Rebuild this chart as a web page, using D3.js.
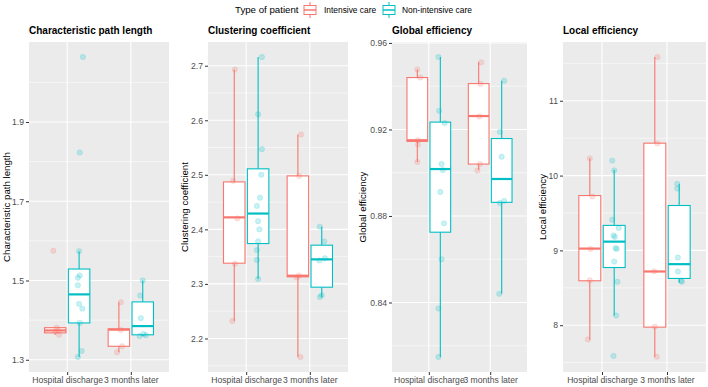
<!DOCTYPE html>
<html>
<head>
<meta charset="utf-8">
<script src="https://cdn.jsdelivr.net/npm/d3@7"></script>
<style>
  body { margin: 0; background: #fff; }
  svg { display: block; font-family: 'Liberation Sans', Arial, sans-serif; }
</style>
</head>
<body>
<svg id="chart" width="708" height="387"></svg>
<script>
/* Brain network metrics by patient type: four boxplot panels */

const groups = ['Hospital discharge', '3 months later'];
const patientTypes = ['Intensive care', 'Non-intensive care'];
const metricTitles = ['Characteristic path length', 'Clustering coefficient', 'Global efficiency', 'Local efficiency'];

// box order: discharge/IC, discharge/non-IC, 3 months/IC, 3 months/non-IC
// each box: [lower whisker, Q1, median, Q3, upper whisker]
const cplBoxes = [
  [1.363, 1.368, 1.374, 1.381, 1.381],
  [1.307, 1.393, 1.465, 1.529, 1.574],
  [1.319, 1.334, 1.376, 1.378, 1.445],
  [1.360, 1.363, 1.385, 1.446, 1.500]
];
const cplPoints = [
  [1.575, 1.381, 1.374, 1.371, 1.363],
  [2.064, 1.823, 1.574, 1.513, 1.507, 1.488, 1.441, 1.429, 1.393, 1.322, 1.307],
  [1.445, 1.375, 1.334, 1.319],
  [1.500, 1.462, 1.405, 1.365, 1.362, 1.360]
];
const cplJitter = [
  [-0.03, 0.02, 0.05, 0.00, 0.06],
  [0.06, 0.01, 0.00, 0.01, -0.02, -0.02, 0.00, 0.05, 0.01, 0.04, -0.02],
  [0.03, 0.03, 0.05, -0.03],
  [0.00, -0.04, -0.03, 0.01, 0.05, -0.05]
];

const ccBoxes = [
  [2.232, 2.338, 2.422, 2.487, 2.693],
  [2.309, 2.374, 2.429, 2.511, 2.716],
  [2.166, 2.313, 2.315, 2.498, 2.574],
  [2.276, 2.294, 2.345, 2.371, 2.405]
];
const ccPoints = [
  [2.693, 2.489, 2.420, 2.337, 2.232],
  [2.716, 2.611, 2.547, 2.500, 2.458, 2.443, 2.415, 2.400, 2.378, 2.362, 2.344, 2.309],
  [2.574, 2.498, 2.315, 2.312, 2.166],
  [2.405, 2.378, 2.347, 2.343, 2.279, 2.276]
];
const ccJitter = [
  [0.01, -0.02, 0.05, 0.01, -0.03],
  [0.06, 0.00, 0.06, 0.05, 0.03, -0.02, 0.00, 0.02, 0.00, -0.02, -0.02, 0.00],
  [0.05, 0.02, 0.02, -0.02, 0.04],
  [-0.03, 0.04, 0.05, -0.04, 0.00, -0.03]
];

const geBoxes = [
  [0.9050, 0.9145, 0.9150, 0.9440, 0.9477],
  [0.8148, 0.8725, 0.9017, 0.9234, 0.9535],
  [0.9012, 0.9040, 0.9262, 0.9412, 0.9512],
  [0.8440, 0.8863, 0.8971, 0.9158, 0.9425]
];
const gePoints = [
  [0.9477, 0.9440, 0.9150, 0.9130, 0.9050],
  [0.9535, 0.9286, 0.9230, 0.9040, 0.9012, 0.8911, 0.8766, 0.8600, 0.8372, 0.8148],
  [0.9510, 0.9410, 0.9260, 0.9040, 0.9010],
  [0.9425, 0.9189, 0.9074, 0.8870, 0.8860, 0.8440]
];
const geJitter = [
  [0.00, 0.05, 0.01, 0.01, 0.00],
  [-0.03, -0.02, 0.07, 0.02, 0.04, 0.00, 0.06, 0.02, -0.03, -0.03],
  [0.04, 0.03, 0.01, 0.02, -0.02],
  [0.04, -0.03, 0.00, 0.04, -0.03, -0.04]
];

const leBoxes = [
  [7.805, 8.594, 9.024, 9.733, 10.230],
  [8.129, 8.771, 9.117, 9.334, 10.078],
  [7.575, 7.974, 8.718, 10.433, 11.585],
  [8.572, 8.625, 8.816, 9.600, 9.892]
];
const lePoints = [
  [10.230, 9.720, 9.020, 8.600, 7.810],
  [10.200, 10.070, 9.410, 9.300, 9.200, 9.180, 9.030, 9.020, 8.850, 8.580, 8.130, 7.590],
  [11.585, 10.430, 8.720, 7.980, 7.580],
  [9.890, 9.826, 8.904, 8.718, 8.594, 8.580]
];
const leJitter = [
  [0.00, 0.04, 0.01, 0.00, -0.03],
  [-0.03, 0.00, -0.03, 0.07, -0.01, 0.01, 0.02, 0.04, 0.00, 0.05, 0.03, -0.01],
  [0.04, 0.04, -0.01, 0.00, 0.03],
  [-0.03, -0.03, -0.02, -0.02, 0.03, 0.04]
];

const cplTicks = [1.3, 1.5, 1.7, 1.9];
const cplTickLabels = ['1.3', '1.5', '1.7', '1.9'];
const cplMinor = [1.4, 1.6, 1.8, 2.0];
const ccTicks = [2.2, 2.3, 2.4, 2.5, 2.6, 2.7];
const ccTickLabels = ['2.2', '2.3', '2.4', '2.5', '2.6', '2.7'];
const ccMinor = [2.15, 2.25, 2.35, 2.45, 2.55, 2.65, 2.75];
const geTicks = [0.84, 0.88, 0.92, 0.96];
const geTickLabels = ['0.84', '0.88', '0.92', '0.96'];
const geMinor = [0.82, 0.86, 0.90, 0.94];
const leTicks = [8, 9, 10, 11];
const leTickLabels = ['8', '9', '10', '11'];
const leMinor = [7.5, 8.5, 9.5, 10.5, 11.5];

(function() {
  'use strict';

  const colors = ['#F8766D', '#00BFC4'];
  const svg = d3.select('#chart');
  const panelTop = 42;
  const panelBottom = 372;

  const panels = [
    { title: metricTitles[0], boxes: cplBoxes, points: cplPoints, jitter: cplJitter, ticks: cplTicks, labels: cplTickLabels, minor: cplMinor, x0: 29, x1: 169, titleX: 7 },
    { title: metricTitles[1], boxes: ccBoxes, points: ccPoints, jitter: ccJitter, ticks: ccTicks, labels: ccTickLabels, minor: ccMinor, x0: 208, x1: 348, titleX: 185 },
    { title: metricTitles[2], boxes: geBoxes, points: gePoints, jitter: geJitter, ticks: geTicks, labels: geTickLabels, minor: geMinor, x0: 392, x1: 527, titleX: 363 },
    { title: metricTitles[3], boxes: leBoxes, points: lePoints, jitter: leJitter, ticks: leTicks, labels: leTickLabels, minor: leMinor, x0: 563, x1: 706, titleX: 543 }
  ];

  panels.forEach(p => drawPanel(p));
  drawLegend();

  function drawPanel(p) {
    const all = p.boxes.flat().concat(p.points.flat());
    const [lo, hi] = d3.extent(all);
    const pad = (hi - lo) * 0.05;

    const y = d3.scaleLinear()
      .domain([lo - pad, hi + pad])
      .range([panelBottom, panelTop]);

    // discrete axis with ggplot's 0.6 expansion
    const x = d3.scalePoint()
      .domain(groups)
      .range([p.x0, p.x1])
      .padding(0.6);

    const step = x.step();
    const boxW = 0.3375 * step;
    const g = svg.append('g');

    g.append('rect')
      .attr('x', p.x0)
      .attr('y', panelTop)
      .attr('width', p.x1 - p.x0)
      .attr('height', panelBottom - panelTop)
      .attr('fill', '#EBEBEB');

    const [d0, d1] = y.domain();
    g.selectAll('.minor')
      .data(p.minor.filter(v => v >= d0 && v <= d1))
      .enter()
      .append('line')
      .attr('x1', p.x0)
      .attr('x2', p.x1)
      .attr('y1', d => y(d))
      .attr('y2', d => y(d))
      .attr('stroke', '#fff')
      .attr('stroke-width', 0.55);

    g.selectAll('.major')
      .data(p.ticks)
      .enter()
      .append('line')
      .attr('x1', p.x0)
      .attr('x2', p.x1)
      .attr('y1', d => y(d))
      .attr('y2', d => y(d))
      .attr('stroke', '#fff')
      .attr('stroke-width', 1.1);

    g.selectAll('.vgrid')
      .data(groups)
      .enter()
      .append('line')
      .attr('x1', d => x(d))
      .attr('x2', d => x(d))
      .attr('y1', panelTop)
      .attr('y2', panelBottom)
      .attr('stroke', '#fff')
      .attr('stroke-width', 1.1);

    p.boxes.forEach((b, k) => {
      const type = k % 2;
      const cx = x(groups[k >> 1]) + (type === 0 ? -0.1875 : 0.1875) * step;
      const col = colors[type];
      const bg = g.append('g');

      bg.append('line')
        .attr('x1', cx).attr('x2', cx)
        .attr('y1', y(b[0])).attr('y2', y(b[1]))
        .attr('stroke', col).attr('stroke-width', 1.1);
      bg.append('line')
        .attr('x1', cx).attr('x2', cx)
        .attr('y1', y(b[3])).attr('y2', y(b[4]))
        .attr('stroke', col).attr('stroke-width', 1.1);

      bg.append('rect')
        .attr('x', cx - boxW / 2)
        .attr('y', y(b[3]))
        .attr('width', boxW)
        .attr('height', Math.max(0, y(b[1]) - y(b[3])))
        .attr('fill', '#fff')
        .attr('stroke', col)
        .attr('stroke-width', 1.1);

      bg.append('line')
        .attr('x1', cx - boxW / 2).attr('x2', cx + boxW / 2)
        .attr('y1', y(b[2])).attr('y2', y(b[2]))
        .attr('stroke', col).attr('stroke-width', 2.2);
    });

    // jittered raw values, pale (alpha ~0.3)
    p.points.forEach((vals, k) => {
      const type = k % 2;
      const cx = x(groups[k >> 1]) + (type === 0 ? -0.1875 : 0.1875) * step;
      g.append('g')
        .selectAll('circle')
        .data(vals)
        .enter()
        .append('circle')
        .attr('cx', (d, i) => cx + p.jitter[k][i] * step)
        .attr('cy', d => y(d))
        .attr('r', 2.7)
        .attr('fill', colors[type])
        .attr('fill-opacity', 0.22)
        .attr('stroke', colors[type])
        .attr('stroke-opacity', 0.18)
        .attr('stroke-width', 0.8);
    });

    const yAxis = g.append('g')
      .attr('transform', `translate(${p.x0},0)`)
      .call(d3.axisLeft(y)
        .tickValues(p.ticks)
        .tickFormat((d, i) => p.labels[i])
        .tickSize(3)
        .tickPadding(2));

    const xAxis = g.append('g')
      .attr('transform', `translate(0,${panelBottom})`)
      .call(d3.axisBottom(x).tickSize(3).tickPadding(2));

    [yAxis, xAxis].forEach(a => {
      a.select('.domain').remove();
      a.selectAll('.tick line').attr('stroke', '#333').attr('stroke-width', 1);
      a.selectAll('.tick text')
        .attr('fill', '#4D4D4D')
        .style('font-size', '8.6px')
        .style('font-family', "'Liberation Sans', Arial, sans-serif");
    });

    g.append('text')
      .attr('transform', `translate(${p.titleX},${(panelTop + panelBottom) / 2}) rotate(-90)`)
      .attr('text-anchor', 'middle')
      .attr('dy', '0.35em')
      .style('font-size', '9.7px')
      .style('fill', '#000')
      .text(p.title);

    g.append('text')
      .attr('x', p.x0)
      .attr('y', 34)
      .style('font-size', '10px')
      .style('font-weight', '700')
      .style('fill', '#000')
      .text(p.title);
  }

  function drawLegend() {
    const legend = svg.append('g').attr('class', 'legend');

    legend.append('text')
      .attr('x', 235)
      .attr('y', 10)
      .attr('dy', '0.35em')
      .style('font-size', '9.7px')
      .style('fill', '#000')
      .text('Type of patient');

    const keys = [{ x: 310, tx: 324 }, { x: 389, tx: 402 }];

    patientTypes.forEach((t, i) => {
      const k = keys[i];
      const col = colors[i];
      legend.append('line')
        .attr('x1', k.x).attr('x2', k.x)
        .attr('y1', 2).attr('y2', 18)
        .attr('stroke', col).attr('stroke-width', 1);
      legend.append('rect')
        .attr('x', k.x - 6).attr('y', 5.5)
        .attr('width', 12).attr('height', 9)
        .attr('fill', '#fff')
        .attr('stroke', col).attr('stroke-width', 1);
      legend.append('line')
        .attr('x1', k.x - 6).attr('x2', k.x + 6)
        .attr('y1', 10).attr('y2', 10)
        .attr('stroke', col).attr('stroke-width', 1.5);
      legend.append('text')
        .attr('x', k.tx)
        .attr('y', 10)
        .attr('dy', '0.35em')
        .style('font-size', '8.4px')
        .style('fill', '#000')
        .text(t);
    });
  }
})();
</script>
</body>
</html>
